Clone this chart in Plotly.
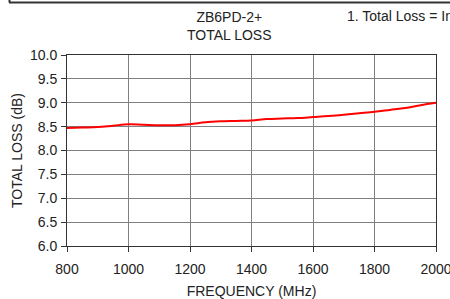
import plotly.graph_objects as go

freq = [800, 850, 900, 950, 1000, 1050, 1100, 1150, 1200, 1250, 1300, 1350, 1400,
        1450, 1500, 1550, 1600, 1650, 1700, 1750, 1800, 1850, 1900, 1950, 2000]
loss = [8.47, 8.48, 8.49, 8.52, 8.55, 8.54, 8.53, 8.53, 8.55, 8.59, 8.61, 8.62, 8.63,
        8.66, 8.67, 8.68, 8.70, 8.72, 8.75, 8.78, 8.81, 8.85, 8.89, 8.95, 9.00]

x_ticks = [800, 1000, 1200, 1400, 1600, 1800, 2000]
y_ticks = [6.0, 6.5, 7.0, 7.5, 8.0, 8.5, 9.0, 9.5, 10.0]

W, H = 450, 299
L, R, T, B = 67, 14, 55, 53
pw, ph = W - L - R, H - T - B

def px(x):
    return (x - L) / pw

def py(y):
    return (H - B - y) / ph

fig = go.Figure()
fig.add_trace(go.Scatter(x=freq, y=loss, mode="lines",
                         line=dict(color="#ff0000", width=2, shape="spline"),
                         showlegend=False, cliponaxis=False))

font = dict(family="Liberation Sans, Arial, sans-serif", size=14, color="#222222")

fig.update_layout(
    width=W, height=H,
    margin=dict(l=L, r=R, t=T, b=B),
    paper_bgcolor="white", plot_bgcolor="white",
    font=font,
    xaxis=dict(range=[800, 2000], tickvals=x_ticks, ticktext=[str(v) for v in x_ticks],
               showgrid=True, gridcolor="#808080", gridwidth=1,
               showline=True, linecolor="#333333", linewidth=1, mirror=True,
               ticks="outside", ticklen=5, tickcolor="#333333",
               zeroline=False, automargin=False, ticklabeloverflow="allow",
               ticklabelstandoff=5,
               title=dict(text="FREQUENCY (MHz)", font=font, standoff=10)),
    yaxis=dict(range=[6.0, 10.0], tickvals=y_ticks, ticktext=[f"{v:.1f}" for v in y_ticks],
               showgrid=True, gridcolor="#808080", gridwidth=1,
               showline=True, linecolor="#333333", linewidth=1, mirror=True,
               ticks="outside", ticklen=5, tickcolor="#333333",
               zeroline=False, automargin=False, ticklabeloverflow="allow",
               ticklabelstandoff=1,
               title=dict(text="TOTAL LOSS (dB)", font=font, standoff=4)),
    annotations=[
        dict(text="ZB6PD-2+<br>TOTAL LOSS", xref="paper", yref="paper",
             x=px(229), y=py(26), xanchor="center", yanchor="middle",
             showarrow=False, font=font, align="center"),
        dict(text="1. Total Loss = Insertion Loss", xref="paper", yref="paper",
             x=px(345), y=py(16), xanchor="left", yanchor="middle",
             showarrow=False, font=font, align="left"),
    ],
    shapes=[
        dict(type="line", xref="paper", yref="paper",
             x0=px(9), x1=px(460), y0=py(2.5), y1=py(2.5),
             line=dict(color="#333333", width=2)),
        dict(type="line", xref="paper", yref="paper",
             x0=px(9.5), x1=px(9.5), y0=py(-5), y1=py(2.5),
             line=dict(color="#333333", width=2)),
    ],
)

fig.write_html("out.html", config={"displayModeBar": False},
               post_script="document.body.style.margin='0';document.body.style.overflow='hidden';")
